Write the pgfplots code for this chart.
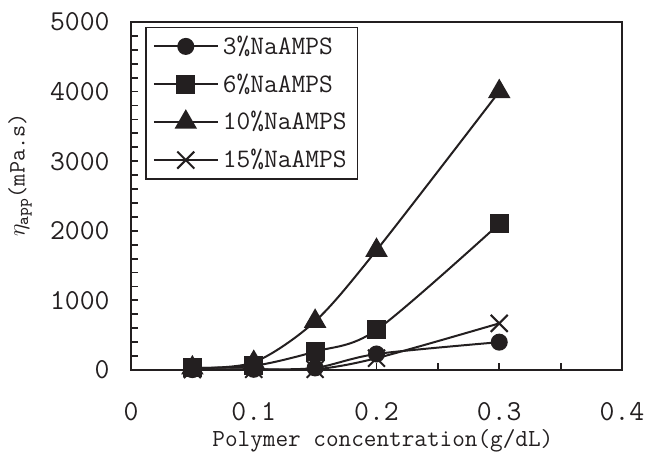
\documentclass[border=0pt]{standalone}
\usepackage{fontspec}
\setmainfont{Latin Modern Mono}
\usepackage{pgfplots}
\pgfplotsset{compat=1.18}
\definecolor{ink}{HTML}{231F20}

% apparent viscosity vs. polymer concentration
\pgfplotstableread{
x     c3    c6    c10   c15
0.05  5     30    30    5
0.10  10    60    110   10
0.15  30    265   700   10
0.20  230   575   1720  170
0.30  400   2100  4000  670
}\visc

\begin{document}
\begin{tikzpicture}
\begin{axis}[
  name=ax,
  scale only axis, width=245.5bp, height=174bp,
  xmin=0, xmax=0.4, ymin=0, ymax=5000,
  axis line style={ink, line width=1bp},
  xtick={0,0.1,0.2,0.3,0.4}, xticklabels={0,0.1,0.2,0.3,0.4},
  minor x tick num=1,
  ytick={0,1000,2000,3000,4000,5000}, yticklabels={0,1000,2000,3000,4000,5000},
  minor y tick num=4,
  tick align=inside, xtick pos=bottom, ytick pos=left,
  major tick length=3.5bp, minor tick length=3.5bp,
  every tick/.style={ink, line width=0.9bp},
  ticklabel style={font=\fontsize{14.5}{16}\selectfont, text=ink},
  xticklabel style={inner ysep=0pt, yshift=-16bp},
  yticklabel style={inner xsep=0pt, xshift=-10.5bp},
  xlabel={Polymer concentration(g/dL)},
  xlabel style={font=\fontsize{12.3}{14}\selectfont, text=ink, at={(axis description cs:0.513,-0.203)}, anchor=center},
  ylabel={$\eta_{\mathrm{app}}$(mPa.s)},
  ylabel style={font=\fontsize{11.8}{13}\selectfont, text=ink, at={(axis description cs:-0.226,0.56)}, anchor=center},
  legend style={at={(rel axis cs:0.0285,0.986)}, anchor=north west, draw=ink, line width=0.8bp,
    font=\fontsize{13.4}{14}\selectfont, text=ink, row sep=4.2bp,
    inner xsep=3.5bp, inner ysep=2bp},
  legend cell align=left,
  legend image code/.code={\draw[mark repeat=2,mark phase=2] plot coordinates {(0bp,0bp) (16bp,0bp) (32bp,0bp)};},
  every axis plot/.append style={ink, line width=1bp, smooth, mark options={solid, fill=ink}},
]
\addplot[mark=*, mark size=3.75bp] table[x=x, y=c3] {\visc};
\addlegendentry{3\%NaAMPS}
\addplot[mark=square*, mark size=4.25bp] table[x=x, y=c6] {\visc};
\addlegendentry{6\%NaAMPS}
\addplot[mark=triangle*, mark size=5.5bp] table[x=x, y=c10] {\visc};
\addlegendentry{10\%NaAMPS}
\addplot[mark=x, mark size=6bp] table[x=x, y=c15] {\visc};
\addlegendentry{15\%NaAMPS}
\end{axis}
\pgfresetboundingbox
\path ([shift={(-65.5bp,-42bp)}]ax.south west) rectangle ([shift={(11.5bp,11bp)}]ax.north east);
\end{tikzpicture}
\end{document}
